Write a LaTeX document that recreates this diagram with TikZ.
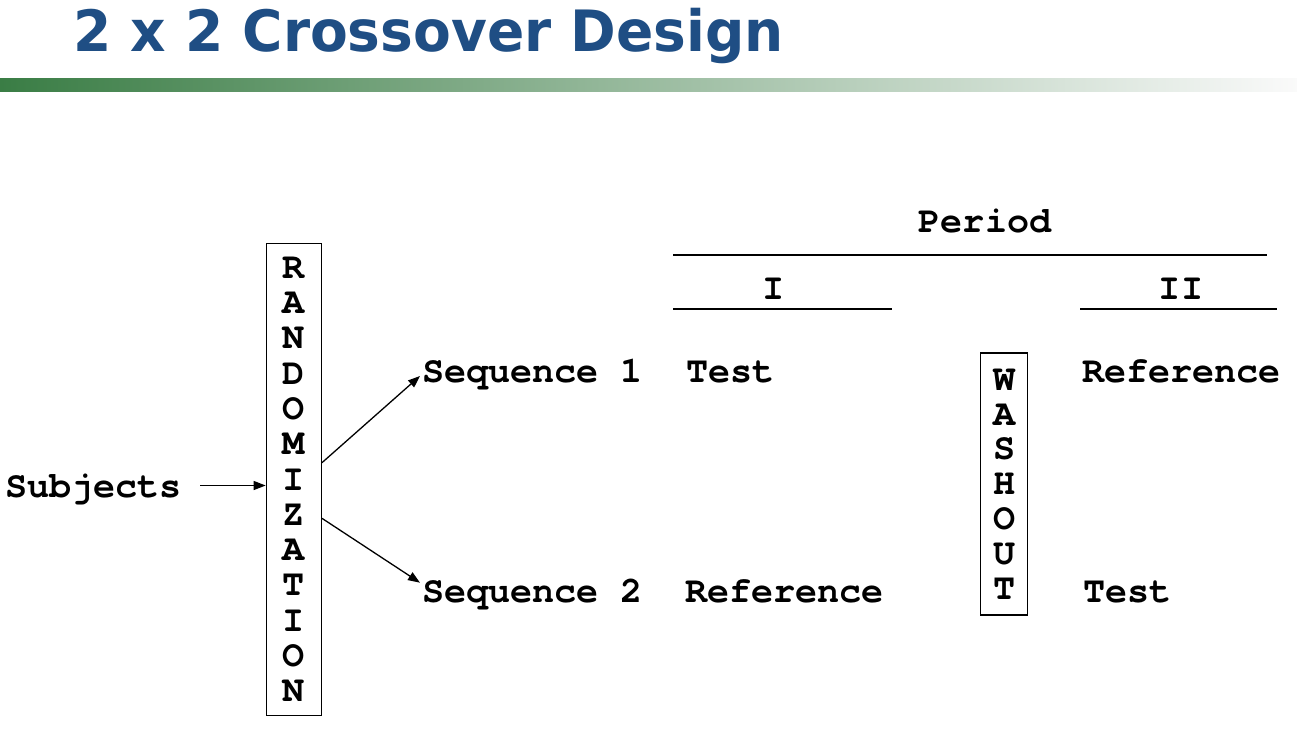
\documentclass[tikz,border=0pt]{standalone}
\usepackage{fontspec}
\newfontfamily\courfont{TeX Gyre Cursor}
\newfontfamily\titlefont{DejaVu Sans}
\usetikzlibrary{arrows.meta}
\definecolor{titleblue}{RGB}{31,78,132}
\definecolor{bargreen}{RGB}{58,125,69}
\begin{document}
\begin{tikzpicture}[x=1pt,y=-1pt,
  lbl/.style={font=\courfont\bfseries\fontsize{36.8}{36.8}\selectfont, inner sep=0pt, anchor=base west},
  clbl/.style={font=\courfont\bfseries\fontsize{36.8}{36.8}\selectfont, inner sep=0pt, anchor=base},
  vbox/.style={draw, line width=1.3pt, inner sep=0pt, align=center},
  rule/.style={line width=1.3pt},
  arr/.style={line width=1.3pt, -{Triangle[length=12pt,width=9pt]}}
]
\useasboundingbox (0,0) rectangle (1297,736);
% title and bar
\node[anchor=base west, inner sep=0pt, text=titleblue,
      font=\titlefont\bfseries\fontsize{57}{57}\selectfont] (title) at (73,51)
      {\scalebox{0.965}[1]{2 x 2 Crossover Design}};
\shade[left color=bargreen, right color=white!96!gray] (0,78) rectangle (1297,91);

% randomization box
\node[vbox, minimum width=55pt, minimum height=472pt,
      font=\courfont\bfseries\fontsize{36.8}{35.3}\selectfont] (rand) at (293.8,479.3)
  {R\\A\\N\\D\\O\\M\\I\\Z\\A\\T\\I\\O\\N};
% washout box
\node[vbox, minimum width=47pt, minimum height=262pt,
      font=\courfont\bfseries\fontsize{36.8}{34.8}\selectfont] (wash) at (1004.2,484)
  {W\\A\\S\\H\\O\\U\\T};

% labels
\node[lbl] (subj) at (5,497) {Subjects};
\node[lbl] (seq1) at (422,382) {Sequence 1};
\node[lbl] (seq2) at (422,602) {Sequence 2};
\node[lbl] (t1) at (686,382) {Test};
\node[lbl] (r1) at (685,602) {Reference};
\node[lbl] (r2) at (1082,382) {Reference};
\node[lbl] (t2) at (1083,602) {Test};
\node[clbl] (period) at (985,232) {Period};
\node[clbl] (p1) at (774,299) {I};
\node[clbl] (p2) at (1181,299) {II};

% rules
\coordinate (pl) at (673,255); \coordinate (pr) at (1267,255);
\draw[rule] (pl) -- (pr);
\coordinate (ial) at (673,309); \coordinate (iar) at (892,309);
\draw[rule] (ial) -- (iar);
\coordinate (ibl) at (1080,309); \coordinate (ibr) at (1277,309);
\draw[rule] (ibl) -- (ibr);

% arrows
\coordinate (sarr) at (200,485.5);
\draw[arr] (sarr) -- (sarr -| rand.west);
\coordinate (tip1) at (420,376);
\coordinate (tip2) at (420,582.7);
\draw[arr] (rand.east |- 0,462.7) -- (tip1);
\draw[arr] (rand.east |- 0,518.3) -- (tip2);
\end{tikzpicture}
\end{document}
